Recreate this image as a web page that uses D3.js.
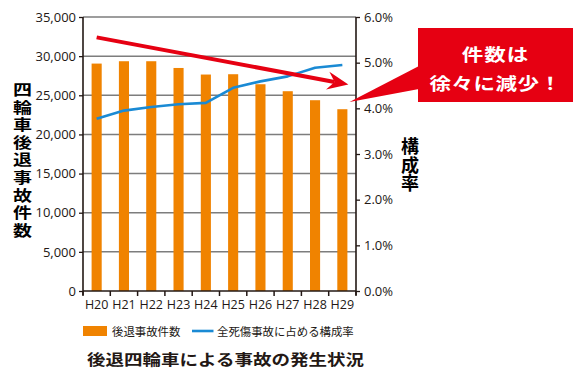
<!DOCTYPE html>
<html><head><meta charset="utf-8">
<script src="https://cdn.jsdelivr.net/npm/d3@7"></script>
<style>
html,body{margin:0;padding:0;background:#fff;}
svg{display:block;}
</style></head>
<body>
<svg id="chart" width="583" height="378"></svg>
<script>
// ---- data ----
const categories = ["H20","H21","H22","H23","H24","H25","H26","H27","H28","H29"];
const accidents = [29050,29350,29350,28490,27650,27690,26410,25520,24370,23220];
const ratio = [3.77,3.95,4.03,4.09,4.12,4.45,4.59,4.70,4.89,4.95];
const leftTicks = [0,5000,10000,15000,20000,25000,30000,35000];
const rightTicks = [0,1,2,3,4,5,6];
const trendStart = ["H20", 32400];
const trendEnd = ["H29", 26370];
const leftTitle = "四輪車後退事故件数";
const rightTitle = "構成率";
const calloutLines = ["件数は","徐々に減少！"];
const legendLabels = ["後退事故件数","全死傷事故に占める構成率"];
const chartTitle = "後退四輪車による事故の発生状況";

// ---- styles ----
const ORANGE = "#F08300", BLUE = "#1a8ad4", RED = "#E60012", INK = "#231815", GRID = "#7d7d7d";
const NUM_FONT = "'Open Sans', 'Noto Sans', sans-serif";
const JP_FONT = "'Noto Sans CJK JP', 'Noto Sans', sans-serif";

const svg = d3.select("#chart");
const L = 83, R = 356, T = 17, B = 291;

const x = d3.scaleBand().domain(categories).range([L, R]).paddingInner(0.63).paddingOuter(0.315);
const step = x.step();
const cx = c => x(c) + x.bandwidth() / 2;
const y = d3.scaleLinear().domain([0, 35000]).range([B, T]);
const y2 = d3.scaleLinear().domain([0, 6]).range([B, T]);

// gridlines
svg.append("g").selectAll("line").data(leftTicks.filter(d => d > 0)).join("line")
  .attr("x1", L).attr("x2", R).attr("y1", d => y(d)).attr("y2", d => y(d))
  .attr("stroke", GRID).attr("stroke-width", 1.5);

// bars
svg.append("g").selectAll("rect").data(categories).join("rect")
  .attr("x", d => x(d)).attr("width", x.bandwidth())
  .attr("y", (d, i) => y(accidents[i])).attr("height", (d, i) => B - y(accidents[i]))
  .attr("fill", ORANGE);

// left axis
const gl = svg.append("g").attr("transform", `translate(${L},0)`)
  .call(d3.axisLeft(y).tickValues(leftTicks).tickFormat(d3.format(",")).tickSize(4).tickSizeOuter(0).tickPadding(3));
// right axis
const gr = svg.append("g").attr("transform", `translate(${R},0)`)
  .call(d3.axisRight(y2).tickValues(rightTicks).tickFormat(d => d.toFixed(1) + "%").tickSize(4).tickSizeOuter(0).tickPadding(4));
// bottom axis with ticks at band boundaries
const boundaries = categories.map(c => cx(c) - step / 2).concat([cx(categories[categories.length - 1]) + step / 2]);
const gb = svg.append("g").attr("transform", `translate(0,${B})`)
  .call(d3.axisBottom(x).tickSize(0).tickPadding(9).tickSizeOuter(0));
gb.selectAll(".bt").data(boundaries).join("line").attr("class", "bt")
  .attr("x1", d => d).attr("x2", d => d).attr("y1", 0).attr("y2", 5)
  .attr("stroke", INK).attr("stroke-width", 1.5);

[gl, gr, gb].forEach(g => {
  g.select(".domain").attr("stroke", INK).attr("stroke-width", 1.6);
  g.selectAll(".tick line").attr("stroke", INK).attr("stroke-width", 1.3);
  g.selectAll(".tick text").attr("fill", INK).style("font-family", NUM_FONT).style("font-size", "13px");
});
gl.select(".domain").attr("d", `M0,${T}V${B + 4}`);
gr.select(".domain").attr("d", `M0,${T}V${B + 4}`);
gb.select(".domain").attr("d", `M${L},0H${R}`);
gb.selectAll(".tick text").style("font-size", "12.5px");

// blue ratio line
const line = d3.line().x((d, i) => cx(categories[i])).y(d => y2(d));
svg.append("path").datum(ratio).attr("d", line)
  .attr("fill", "none").attr("stroke", BLUE).attr("stroke-width", 2.6).attr("stroke-linejoin", "round");

// red trend arrow
const p0 = [cx(trendStart[0]), y(trendStart[1])];
const p1 = [cx(trendEnd[0]) + step * 0.22, y(trendEnd[1])];
const dx = p1[0] - p0[0], dy = p1[1] - p0[1], len = Math.hypot(dx, dy);
const ux = dx / len, uy = dy / len, nx = -uy, ny = ux;
const headLen = 21, headW = 9, notch = 7;
const base = [p1[0] - ux * headLen, p1[1] - uy * headLen];
const nb = [p1[0] - ux * (headLen - notch), p1[1] - uy * (headLen - notch)];
svg.append("line").attr("x1", p0[0]).attr("y1", p0[1]).attr("x2", nb[0]).attr("y2", nb[1])
  .attr("stroke", RED).attr("stroke-width", 4);
svg.append("path")
  .attr("d", `M${p1[0]},${p1[1]}L${base[0] + nx * headW},${base[1] + ny * headW}L${nb[0]},${nb[1]}L${base[0] - nx * headW},${base[1] - ny * headW}Z`)
  .attr("fill", RED);

// callout
const box = {x: 418, y: 28, w: 155, h: 74};
svg.append("path")
  .attr("d", `M${box.x + 1},66L349.5,102L${box.x + 1},89Z`).attr("fill", RED);
svg.append("rect").attr("x", box.x).attr("y", box.y).attr("width", box.w).attr("height", box.h).attr("fill", RED);
const calloutY = [53.5, 82];
calloutLines.forEach((t, i) => {
  svg.append("g").attr("transform", `translate(${box.x + box.w / 2},${calloutY[i]}) scale(1,0.82)`)
    .append("text").text(t).attr("text-anchor", "middle").attr("dominant-baseline", "central")
    .attr("fill", "#fff").style("font-family", JP_FONT).style("font-weight", "bold")
    .style("font-size", "21.5px").style("letter-spacing", i === 1 ? "0.5px" : "1px");
});

// vertical titles (single text, vertical writing mode)
function verticalText(str, xc, yTop, yBottom, size, sy) {
  const n = [...str].length;
  const localH = (yBottom - yTop) / sy;
  const ls = (localH - n * size) / (n - 1);
  svg.append("g").attr("transform", `translate(${xc},${yTop}) scale(1,${sy})`)
    .append("text").text(str).attr("x", 0).attr("y", 0)
    .attr("text-anchor", "start")
    .style("writing-mode", "vertical-rl").style("text-orientation", "upright")
    .style("letter-spacing", ls + "px")
    .attr("fill", "#000").style("font-family", JP_FONT).style("font-weight", "bold").style("font-size", size + "px");
}
verticalText(leftTitle, 22.5, 82.5, 237.5, 19, 0.76);
verticalText(rightTitle, 410, 137.5, 192, 18, 1);

// legend
svg.append("rect").attr("x", 83).attr("y", 326).attr("width", 24).attr("height", 10).attr("fill", ORANGE);
svg.append("text").attr("x", 112).attr("y", 331).attr("dominant-baseline", "central").text(legendLabels[0])
  .attr("fill", INK).style("font-family", JP_FONT).style("font-size", "11.4px");
svg.append("line").attr("x1", 192).attr("x2", 213.5).attr("y1", 331).attr("y2", 331)
  .attr("stroke", BLUE).attr("stroke-width", 2.6);
svg.append("text").attr("x", 217).attr("y", 331).attr("dominant-baseline", "central").text(legendLabels[1])
  .attr("fill", INK).style("font-family", JP_FONT).style("font-size", "11.4px");

// chart title
svg.append("g").attr("transform", `translate(225.5,358.5) scale(1,0.8)`)
  .append("text").text(chartTitle).attr("text-anchor", "middle").attr("dominant-baseline", "central")
  .attr("fill", INK).style("font-family", JP_FONT).style("font-weight", "bold").style("font-size", "18.5px");
</script>
</body></html>
